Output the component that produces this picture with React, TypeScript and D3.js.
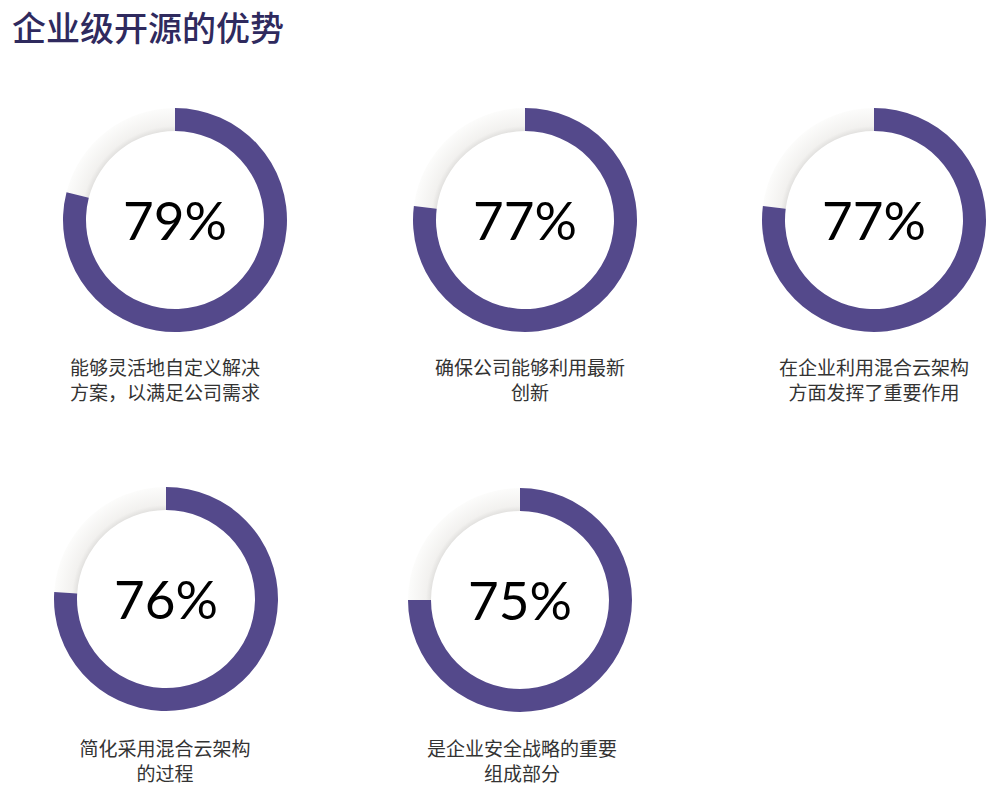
import React from "react";
import * as d3 from "d3";

const title = "企业级开源的优势";
const values = [79, 77, 77, 76, 75];
const labels = [
  ["能够灵活地自定义解决", "方案，以满足公司需求"],
  ["确保公司能够利用最新", "创新"],
  ["在企业利用混合云架构", "方面发挥了重要作用"],
  ["简化采用混合云架构", "的过程"],
  ["是企业安全战略的重要", "组成部分"],
];
// layout
const centers = [
  [175, 220],
  [525, 220],
  [874, 220],
  [166, 599],
  [520, 600],
];
const labelX = [165, 530, 874, 165, 522];
const labelY = [368, 368, 368, 749, 749];

const W = 1000;
const H = 802;
const rOuter = 112;
const rInner = 89;

export default function App() {
  const scale = d3.scaleLinear().domain([0, 100]).range([0, 2 * Math.PI]);
  const arcGen = d3.arc<any>().innerRadius(rInner).outerRadius(rOuter);
  return (
    <svg
      width={W}
      height={H}
      style={{ position: "absolute", left: 0, top: 0, background: "#ffffff" }}
    >
      <defs>
        <radialGradient id="trackGrad" gradientUnits="userSpaceOnUse" cx={0} cy={0} r={rOuter}>
          <stop offset={rInner / rOuter} stopColor="#e2e1df" />
          <stop offset={(rInner + 5) / rOuter} stopColor="#f2f1ef" />
          <stop offset={1} stopColor="#fcfcfb" />
        </radialGradient>
      </defs>
      <rect width={W} height={H} fill="#ffffff" />
      <text
        x={12}
        y={41}
        fontSize={34}
        fill="#2f2a5e"
        fontFamily="'Noto Sans CJK SC', sans-serif"
        fontWeight={500}
      >
        {title}
      </text>
      {values.map((v, i) => {
        const [cx, cy] = centers[i];
        const track = arcGen({ startAngle: scale(v), endAngle: scale(100) });
        const prog = arcGen({ startAngle: 0, endAngle: scale(v) });
        return (
          <g key={i}>
            <g transform={`translate(${cx},${cy})`}>
              <path d={track || ""} fill="url(#trackGrad)" />
              <path d={prog || ""} fill="#54498b" />
              <text
                x={0}
                y={0}
                dy="0.38em"
                textAnchor="middle"
                fontSize={53}
                fill="#000000"
                fontFamily="Lato, 'Open Sans', sans-serif"
                fontWeight={400}
              >
                {v}%
              </text>
            </g>
            {labels[i].map((line, j) => (
              <text
                key={j}
                x={labelX[i]}
                y={labelY[i] + j * 25}
                dy="0.35em"
                textAnchor="middle"
                fontSize={19}
                fill="#333333"
                fontFamily="'Noto Sans CJK SC', sans-serif"
              >
                {line}
              </text>
            ))}
          </g>
        );
      })}
    </svg>
  );
}
